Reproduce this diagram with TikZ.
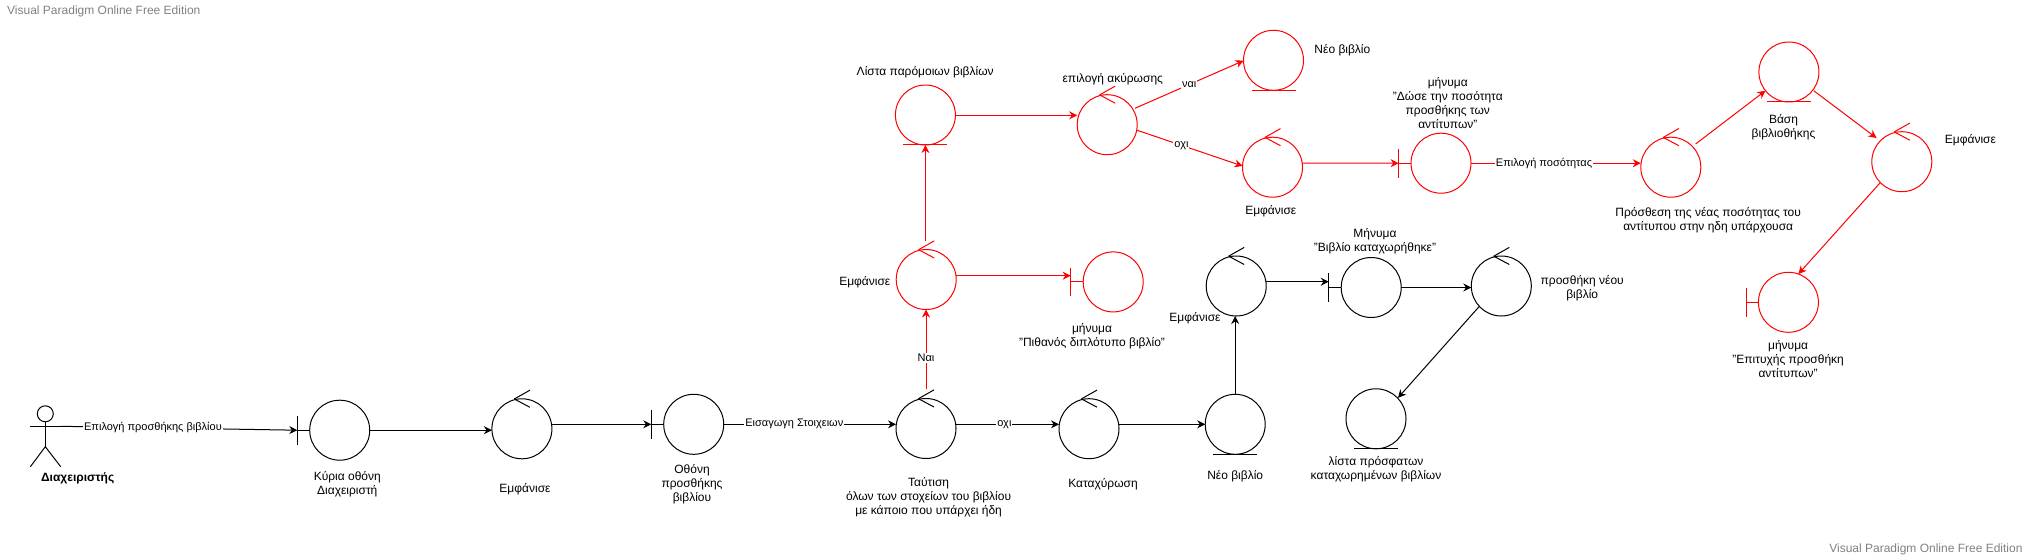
\documentclass[tikz,border=0pt]{standalone}
\usepackage{fontspec}
\setmainfont{Liberation Sans}
\usetikzlibrary{arrows.meta}
\tikzset{
    obj/.style={draw, circle, minimum size=60pt, inner sep=0pt, outer sep=0pt},
    ctrl/.style={obj, append after command={
        ([shift={(-7.6,-29.8)}]\tikzlastnode.center) edge ([shift={(8,-38.6)}]\tikzlastnode.center)
        ([shift={(-7.6,-29.8)}]\tikzlastnode.center) edge ([shift={(8,-21.5)}]\tikzlastnode.center)}},
    bound/.style={obj, append after command={
        ([shift={(-42.4,-14.3)}]\tikzlastnode.center) edge ([shift={(-42.4,14.3)}]\tikzlastnode.center)
        ([shift={(-42.4,0)}]\tikzlastnode.center) edge (\tikzlastnode.west)}},
    ent/.style={obj, append after command={
        ([shift={(-22,0)}]\tikzlastnode.south) edge ([shift={(22,0)}]\tikzlastnode.south)}},
    txt/.style={text=black, align=center, inner sep=0pt, font=\fontsize{12}{14}\selectfont},
    flowlabel/.style={text=black, fill=white, inner sep=1pt, font=\fontsize{11}{14}\selectfont},
    flow/.style={-{Stealth[length=8pt,width=8pt]}},
    watermark/.style={text=black!50, inner sep=0pt, font=\fontsize{12}{14}\selectfont}
}
\begin{document}
\begin{tikzpicture}[x=1pt,y=-1pt,line width=1pt]
    \useasboundingbox (0,0) rectangle (2029,559);

    \node (markA) at (6.7,11.7) [watermark,anchor=west] {Visual Paradigm Online Free Edition};
    \node (markB) at (2023,549.7) [watermark,anchor=east] {Visual Paradigm Online Free Edition};

    % Actor
    \node (head) at (45.3,413.8) [draw, circle, minimum size=16pt, inner sep=0pt, outer sep=0pt] {};
    \coordinate (hip) at (45.3,446.7);
    \coordinate (armL) at (30.4,426.3);
    \coordinate (armR) at (60.7,426.3);
    \coordinate (legL) at (30.4,466.7);
    \coordinate (legR) at (60.7,466.7);
    \draw (head.south) -- (hip);
    \draw (armL) -- (armR);
    \draw (legL) -- (hip) -- (legR);
    \node (admin) at (77.7,478.3) [txt,font=\fontsize{12}{14}\selectfont\bfseries] {Διαχειριστής};

    % Main line
    \node (kyria) at (339.7,430.2) [bound] {};
    \node (show) at (521.9,428.8) [ctrl] {};
    \node (screen) at (693.7,424.3) [bound] {};
    \node (match) at (926,428.5) [ctrl] {};
    \node (store) at (1089,428.7) [ctrl] {};
    \node (newbook) at (1235.2,424.3) [ent] {};
    \node (showB) at (1236.2,286) [ctrl] {};
    \node (msgdone) at (1371.2,287.5) [bound] {};
    \node (addnew) at (1501.3,286) [ctrl] {};
    \node (recent) at (1376,418.8) [ent] {};

    \node (kyriaT) at (347.3,484.5) [txt] {Κύρια οθόνη\\Διαχειριστή};
    \node (showT) at (525,489) [txt] {Εμφάνισε};
    \node (screenT) at (692,484) [txt] {Οθόνη\\προσθήκης\\βιβλίου};
    \node (matchT) at (928.6,497) [txt] {Ταύτιση\\όλων των στοχείων του βιβλίου\\με κάποιο που υπάρχει ήδη};
    \node (storeT) at (1103,484) [txt] {Καταχύρωση};
    \node (newbookT) at (1235.2,476) [txt] {Νέο βιβλίο};
    \node (showBT) at (1195,318.7) [txt] {Εμφάνισε};
    \node (msgdoneT) at (1375,241) [txt] {Μήνυμα\\"Βιβλίο καταχωρήθηκε"};
    \node (addnewT) at (1582.2,288) [txt] {προσθήκη νέου\\βιβλίο};
    \node (recentT) at (1376,469) [txt] {λίστα πρόσφατων\\καταχωρημένων βιβλίων};

    \draw[flow] (armR) -- ([shift={(-42.4,0)}]kyria.center) node[flowlabel,pos=0.39] (chooseT) {Επιλογή προσθήκης βιβλίου};
    \draw[flow] (kyria.east) -- ([shift={(0,1.4)}]show.west);
    \draw[flow] ([shift={(0,-4.5)}]show.east) -- ([shift={(-42.4,0)}]screen.center);
    \draw[flow] (screen.east) -- ([shift={(0,-4.2)}]match.west) node[flowlabel,pos=0.41] (enterT) {Εισαγωγη Στοιχειων};
    \draw[flow] ([shift={(0,-4.2)}]match.east) -- ([shift={(0,-4.4)}]store.west) node[flowlabel,pos=0.47] (noT) {οχι};
    \draw[flow] ([shift={(0,-4.4)}]store.east) -- (newbook.west);
    \draw[flow] (newbook.north) -- ([shift={(-1,0)}]showB.south);
    \draw[flow] ([shift={(0,-4.3)}]showB.east) -- ([shift={(-42.4,-5.8)}]msgdone.center);
    \draw[flow] (msgdone.east) -- ([shift={(0,1.5)}]addnew.west);
    \draw[flow] ([shift={(-22.3,20.7)}]addnew.center) -- ([shift={(22,-21)}]recent.center);

    % Red part
    \begin{scope}[red]
        \node (showC) at (926.2,279.5) [ctrl] {};
        \node (msgdup) at (1113.2,281.9) [bound] {};
        \node (similar) at (925.4,115) [ent] {};
        \node (cancel) at (1107.2,124.7) [ctrl] {};
        \node (newbookB) at (1273.5,60.3) [ent] {};
        \node (showD) at (1272.5,167.2) [ctrl] {};
        \node (msgqty) at (1441,163.2) [bound] {};
        \node (addqty) at (1670.8,167.2) [ctrl] {};
        \node (base) at (1788.9,72) [ent] {};
        \node (showE) at (1901.8,161.7) [ctrl] {};
        \node (msgok) at (1788.4,302.3) [bound] {};

        \draw[flow] ([shift={(0,-39.2)}]match.center) -- ([shift={(-0.2,0)}]showC.south) node[flowlabel,pos=0.39] (yesT) {Ναι};
        \draw[flow] ([shift={(-0.8,-38.8)}]showC.center) -- (similar.south);
        \draw[flow] ([shift={(0,-3.8)}]showC.east) -- ([shift={(-42.5,-6.2)}]msgdup.center);
        \draw[flow] ([shift={(0,0.3)}]similar.east) -- ([shift={(0,-9.4)}]cancel.west);
        \draw[flow] ([shift={(27.8,-16.4)}]cancel.center) -- ([shift={(0,0.4)}]newbookB.west) node[flowlabel,pos=0.5] (yes2T) {ναι};
        \draw[flow] ([shift={(0,5.6)}]cancel.east) -- ([shift={(0,-1.2)}]showD.west) node[flowlabel,pos=0.42] (no2T) {οχι};
        \draw[flow] ([shift={(0,-4.2)}]showD.east) -- ([shift={(-42.4,0)}]msgqty.center);
        \draw[flow] (msgqty.east) -- ([shift={(0,-4)}]addqty.west) node[flowlabel,pos=0.43] (qtyT) {Επιλογή ποσότητας};
        \draw[flow] ([shift={(24.8,-23.2)}]addqty.center) -- ([shift={(-23.5,18.7)}]base.center);
        \draw[flow] ([shift={(24.8,18.7)}]base.center) -- ([shift={(-25.3,-23.7)}]showE.center);
        \draw[flow] ([shift={(-21.6,21)}]showE.center) -- ([shift={(10,-28.3)}]msgok.center);
    \end{scope}

    \node (showCT) at (864.8,282.7) [txt] {Εμφάνισε};
    \node (msgdupT) at (1092,336) [txt] {μήνυμα\\"Πιθανός διπλότυπο βιβλίο"};
    \node (similarT) at (925.2,72.7) [txt] {Λίστα παρόμοιων βιβλίων};
    \node (cancelT) at (1112.8,79) [txt] {επιλογή ακύρωσης};
    \node (newbookBT) at (1342.4,50.7) [txt] {Νέο βιβλίο};
    \node (showDT) at (1270.8,211.7) [txt] {Εμφάνισε};
    \node (msgqtyT) at (1447.8,103) [txt] {μήνυμα\\"Δώσε την ποσότητα\\προσθήκης των\\αντίτυπων"};
    \node (addqtyT) at (1708.2,220) [txt] {Πρόσθεση της νέας ποσότητας του\\αντίτυπου στην ηδη υπάρχουσα};
    \node (baseT) at (1783.5,127) [txt] {Βάση\\βιβλιοθήκης};
    \node (showET) at (1970.4,140) [txt] {Εμφάνισε};
    \node (msgokT) at (1788.1,359) [txt] {μήνυμα\\"Επιτυχής προσθήκη\\αντίτυπων"};

\end{tikzpicture}
\end{document}
